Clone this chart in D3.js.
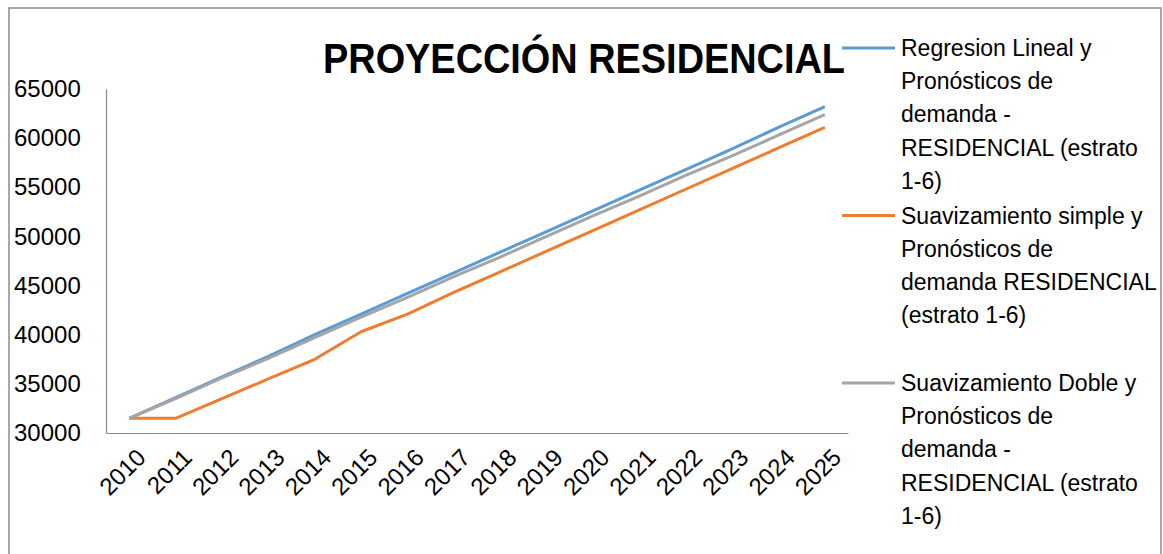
<!DOCTYPE html>
<html>
<head>
<meta charset="utf-8">
<script src="https://cdn.jsdelivr.net/npm/d3@7"></script>
<style>
  body { margin: 0; background: #fff; }
  text { font-family: "Liberation Sans", Arial, sans-serif; fill: #000; }
</style>
</head>
<body>
<div id="chart"></div>
<script>
// chart data
var years = ["2010","2011","2012","2013","2014","2015","2016","2017",
             "2018","2019","2020","2021","2022","2023","2024","2025"];
var regresion = [31500,33600,35700,37800,40000,42100,44200,46300,
                 48400,50500,52600,54700,56800,58900,61100,63200];
var simple = [31500,31500,33500,35500,37500,40300,42100,44300,
              46400,48500,50600,52700,54800,56900,59000,61100];
var doble = [31500,33500,35600,37600,39700,41800,43800,45900,
             47900,50000,52100,54100,56200,58200,60300,62400];
var yTicks = [30000,35000,40000,45000,50000,55000,60000,65000];
var seriesNames = [
  ["Regresion Lineal y", "Pronósticos de", "demanda -", "RESIDENCIAL (estrato", "1-6)"],
  ["Suavizamiento simple y", "Pronósticos de", "demanda RESIDENCIAL", "(estrato 1-6)"],
  ["Suavizamiento Doble y", "Pronósticos de", "demanda -", "RESIDENCIAL (estrato", "1-6)"]
];
var colors = ["#5B9BD5", "#ED7D31", "#A5A5A5"];

var w = 1163, h = 554,
    svg = d3.select("#chart").append("svg")
            .attr("width", w).attr("height", h),
    x = d3.scaleBand().domain(years).range([106, 848]),
    y = d3.scaleLinear().domain([30000, 65000]).range([433, 89]);

// outer chart border
svg.append("rect")
    .attr("x", 9).attr("y", 8)
    .attr("width", 1152).attr("height", 560)
    .attr("fill", "none").attr("stroke", "#8c8c8c").attr("stroke-width", 1.5);

// title
svg.append("text")
    .attr("x", 323).attr("y", 73)
    .attr("font-size", "42px").attr("font-weight", "bold")
    .attr("textLength", 522).attr("lengthAdjust", "spacingAndGlyphs")
    .text("PROYECCIÓN RESIDENCIAL");

// y axis
var gy = svg.append("g")
    .attr("transform", "translate(106,0)")
    .call(d3.axisLeft(y).tickValues(yTicks).tickSize(0).tickPadding(0).tickFormat(d3.format("d")));
gy.select(".domain").attr("stroke", "#888").attr("stroke-width", 1.2);
gy.selectAll("text")
    .attr("x", -92).attr("text-anchor", "start")
    .attr("font-size", "24px").attr("font-family", "Liberation Sans, Arial, sans-serif");

// x axis
var gx = svg.append("g")
    .attr("transform", "translate(0,433)")
    .call(d3.axisBottom(x).tickSize(0).tickPadding(0));
gx.select(".domain").attr("stroke", "#888").attr("stroke-width", 1.2);
gx.selectAll("text")
    .attr("font-size", "24px").attr("font-family", "Liberation Sans, Arial, sans-serif")
    .attr("text-anchor", "end")
    .attr("y", 0).attr("dy", "0.35em")
    .attr("transform", "translate(12,20) rotate(-45)");

// data lines
var line = d3.line()
    .x(function(d, i) { return x(years[i]) + x.bandwidth() / 2; })
    .y(function(d) { return y(d); });

[regresion, simple, doble].forEach(function(s, i) {
    svg.append("path")
        .datum(s)
        .attr("fill", "none")
        .attr("stroke", colors[i])
        .attr("stroke-width", 3)
        .attr("stroke-linejoin", "round")
        .attr("d", line);
});

// legend
seriesNames.forEach(function(lines, i) {
    var top = 48 + i * 167.5;
    svg.append("line")
        .attr("x1", 842).attr("x2", 895)
        .attr("y1", top).attr("y2", top)
        .attr("stroke", colors[i]).attr("stroke-width", 3);
    lines.forEach(function(t, j) {
        svg.append("text")
            .attr("x", 901).attr("y", top + j * 33.2)
            .attr("dy", "0.35em")
            .attr("font-size", "23px")
            .text(t);
    });
});
</script>
</body>
</html>
